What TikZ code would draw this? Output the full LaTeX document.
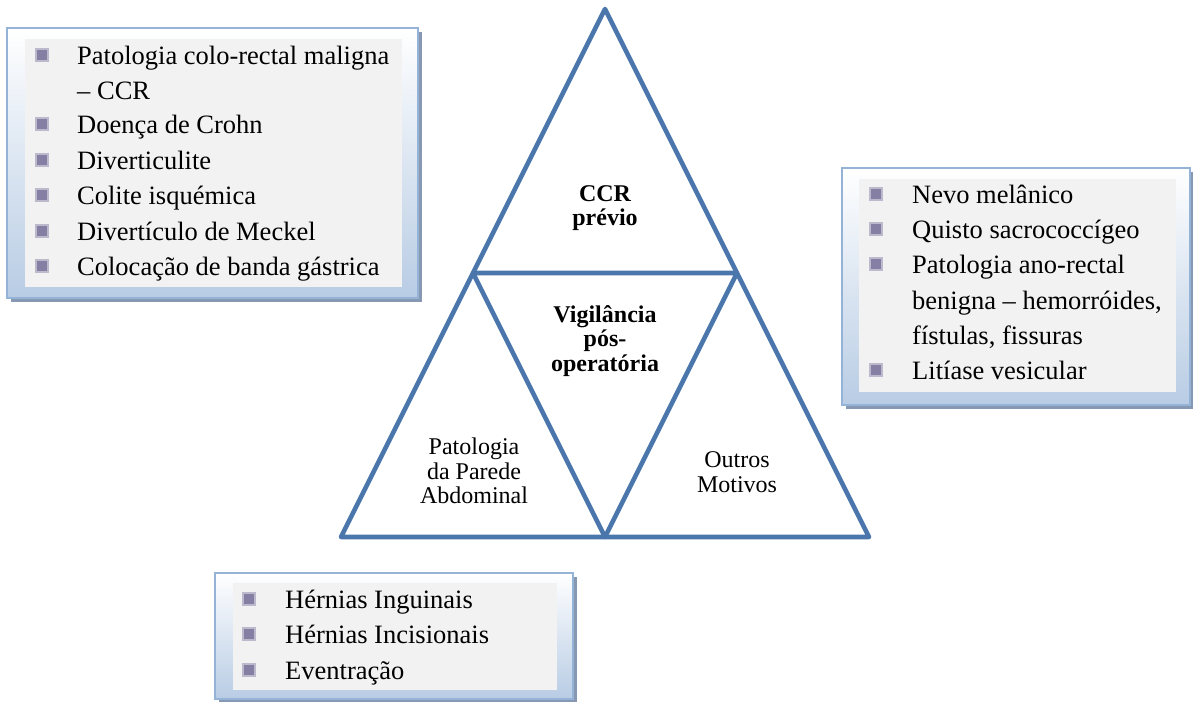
\documentclass[tikz,border=0pt]{standalone}
\usepackage{fontspec}
\setmainfont{Liberation Serif}
\definecolor{triblue}{HTML}{4A76AC}
\definecolor{frameblue}{HTML}{95B3D7}
\definecolor{boxbottom}{HTML}{B8CCE4}
\definecolor{shadowblue}{HTML}{8799B2}
\definecolor{panelgray}{HTML}{F2F2F2}
\definecolor{bulletcol}{HTML}{857FA3}
\tikzset{
  tri/.style={draw=triblue, line width=4.6pt, line join=round},
  trilabel/.style={align=center, font=\fontsize{24}{24.5}\selectfont, inner sep=0pt},
  trilabelbf/.style={align=center, font=\bfseries\fontsize{24}{24.5}\selectfont, inner sep=0pt},
  listtext/.style={anchor=base west, font=\fontsize{26.5}{30}\selectfont, inner sep=0pt},
  bulletbox/.style={fill=bulletcol, draw=bulletcol!55, line width=1.5pt, minimum size=12pt, inner sep=0pt},
}
\usetikzlibrary{calc}
% a framed list box: shadow, gradient frame, gray panel
\newcommand{\listframe}[4]{%
  \fill[shadowblue] ($(#1)+(4,4)$) rectangle ($(#2)+(4,4)$);
  \shade[top color=white, bottom color=boxbottom, draw=frameblue, line width=1.5pt] (#1) rectangle (#2);
  \fill[panelgray] (#3) rectangle (#4);
}
\begin{document}
\begin{tikzpicture}[x=1pt, y=-1pt]
\useasboundingbox (0,0) rectangle (1193,701);

% list boxes
\listframe{7,28}{418,298}{25,39}{402,287}
\listframe{842,168}{1190,405}{859,179}{1176,392}
\listframe{215,573}{573,699}{233,583}{557,690}

% left list
\foreach \yy in {64,133,169,204,240,275}
  \node[bulletbox] at (42,\yy-9) {};
\node[listtext] (l1) at (77,64) {Patologia colo-rectal maligna};
\node[listtext] (l1b) at (77,99) {– CCR};
\node[listtext] (l2) at (77,133) {Doença de Crohn};
\node[listtext] (l3) at (77,169) {Diverticulite};
\node[listtext] (l4) at (77,204) {Colite isquémica};
\node[listtext] (l5) at (77,240) {Divertículo de Meckel};
\node[listtext] (l6) at (77,275) {Colocação de banda gástrica};

% right list
\foreach \yy in {203,238,273,379}
  \node[bulletbox] at (876,\yy-9) {};
\node[listtext] (r1) at (912,203) {Nevo melânico};
\node[listtext] (r2) at (912,238) {Quisto sacrococcígeo};
\node[listtext] (r3) at (912,273) {Patologia ano-rectal};
\node[listtext] (r3b) at (912,309) {benigna – hemorróides,};
\node[listtext] (r3c) at (912,344) {fístulas, fissuras};
\node[listtext] (r4) at (912,379) {Litíase vesicular};

% bottom list
\foreach \yy in {608,643,679}
  \node[bulletbox] at (249,\yy-9) {};
\node[listtext] (b1) at (285,608) {Hérnias Inguinais};
\node[listtext] (b2) at (285,643) {Hérnias Incisionais};
\node[listtext] (b3) at (285,679) {Eventração};

% triangle
\coordinate (apex) at (605,9);
\coordinate (bl) at (341,537);
\coordinate (br) at (869,537);
\coordinate (ml) at (473,273);
\coordinate (mr) at (737,273);
\coordinate (mb) at (605,537);
\draw[tri] (apex) -- (bl) -- (br) -- cycle;
\draw[tri] (ml) -- (mr) -- (mb) -- cycle;

\node[trilabelbf] (top) at (605,208) {CCR\\prévio};
\node[trilabelbf] (mid) at (605,341) {Vigilância\\pós-\\operatória};
\node[trilabel] (left) at (474,471) {Patologia\\da Parede\\Abdominal};
\node[trilabel] (right) at (737,472) {Outros\\Motivos};
\end{tikzpicture}
\end{document}
